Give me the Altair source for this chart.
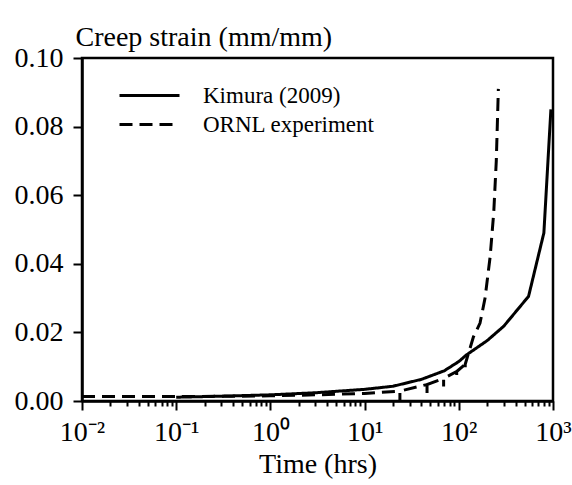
import altair as alt
import pandas as pd

# ---- data ----
kimura_t = [0.1, 0.3, 1, 3, 10, 20, 40, 70, 100, 120, 200, 300, 550, 800, 950]
kimura_s = [0.0011, 0.0014, 0.0018, 0.0024, 0.0034, 0.0043, 0.0063, 0.0088, 0.0115, 0.0134,
            0.0176, 0.0218, 0.0305, 0.0490, 0.0850]

ornl_t = [0.01, 0.1, 0.5, 1, 3, 10, 23.7, 23.7, 23.7, 46, 46, 46, 69, 69, 69,
          95, 95, 95, 117, 117, 117, 143, 168, 190, 215, 235, 250, 263]
ornl_s = [0.0013, 0.0013, 0.0014, 0.0015, 0.0018, 0.0022, 0.0029, 0.0003, 0.0029,
          0.0048, 0.0023, 0.0048, 0.0066, 0.0042, 0.0066, 0.0086, 0.0066, 0.0086,
          0.0107, 0.0095, 0.0107, 0.0187, 0.0227, 0.0300, 0.0420, 0.0550, 0.0700, 0.0910]

series_names = ["Kimura (2009)", "ORNL experiment"]
x_major = [0.01, 0.1, 1, 10, 100, 1000]
x_labels = ["10⁻²", "10⁻¹", "10⁰", "10¹", "10²", "10³"]
y_ticks = [0.0, 0.02, 0.04, 0.06, 0.08, 0.10]

rows = []
for i, (t, s) in enumerate(zip(kimura_t, kimura_s)):
    rows.append({"t": t, "s": s, "series": series_names[0], "i": i})
for i, (t, s) in enumerate(zip(ornl_t, ornl_s)):
    rows.append({"t": t, "s": s, "series": series_names[1], "i": i})
df = pd.DataFrame(rows)

x_minor = [m * d for d in x_major[:-1] for m in range(2, 10)]
x_all = sorted(x_major + x_minor)

FONT = "Liberation Serif"
is_major = "abs(log(datum.value)/LN10 - round(log(datum.value)/LN10)) < 1e-6"
label_arr = "[" + ",".join("'" + l + "'" for l in x_labels) + "]"
label_expr = f"({is_major}) ? {label_arr}[round(log(datum.value)/LN10)+2] : ''"

chart = alt.Chart(df).mark_line(color="black", strokeWidth=3, strokeCap="butt").encode(
    x=alt.X("t:Q",
            scale=alt.Scale(type="log", domain=[0.01, 1000], nice=False),
            axis=alt.Axis(values=x_all, labelExpr=label_expr, title="Time (hrs)",
                          tickSize={"condition": {"test": is_major, "value": 9}, "value": 5},
                          labelOverlap=False, labelFlush=False, labelBound=False,
                          labelPadding=8, labelFontSize=28,
                          titleFontSize=28, titleFontWeight="normal",
                          titleY=71, titleBaseline="alphabetic", grid=False)),
    y=alt.Y("s:Q",
            scale=alt.Scale(domain=[0, 0.1], nice=False),
            axis=alt.Axis(values=y_ticks, format=".2f", title="Creep strain (mm/mm)",
                          tickSize=9, labelPadding=10, labelFontSize=28,
                          labelFlush=False,
                          titleAngle=0, titleAlign="left", titleBaseline="alphabetic",
                          titleX=-7, titleY=-13, titleFontSize=28, titleFontWeight="normal",
                          grid=False)),
    strokeDash=alt.StrokeDash("series:N",
                              scale=alt.Scale(domain=series_names, range=[[1, 0], [13, 7]]),
                              legend=alt.Legend(title=None, orient="none", legendX=56, legendY=26,
                                                symbolType="M-3,0H3", symbolSize=400,
                                                symbolStrokeWidth=3, symbolStrokeColor="black",
                                                symbolFillColor="transparent",
                                                labelFont=FONT, labelFontSize=23, labelColor="black",
                                                labelLimit=400,
                                                labelOffset=42, rowPadding=5, padding=0)),
    order="i:Q",
).properties(
    width=471, height=343,
    autosize=alt.AutoSizeParams(type="none"),
    padding={"left": 82, "top": 58, "right": 19, "bottom": 84},
).configure_view(
    stroke="black", strokeWidth=2.5
).configure_axis(
    domainColor="black", domainWidth=2.5, tickColor="black", tickWidth=2,
    labelColor="black", titleColor="black", labelFont=FONT, titleFont=FONT,
)

chart.save("out.html", embed_options={"renderer": "svg", "actions": False})
